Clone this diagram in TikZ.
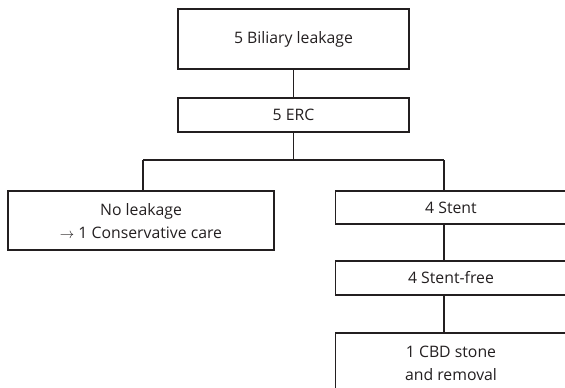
\documentclass[tikz,border=0pt]{standalone}
\usepackage{fontspec}
\setmainfont{Open Sans}
\definecolor{ink}{HTML}{231F20}
\begin{document}
\begin{tikzpicture}[x=1pt,y=-1pt,
  box/.style={draw=ink, line width=1.9pt, inner sep=0pt, align=center, text=ink,
    font=\fontsize{15.8}{23}\selectfont},
  link/.style={draw=ink, line width=1.9pt}]
\useasboundingbox (0,0) rectangle (565,388);
\clip (0,0) rectangle (565,388);
\node[box, minimum width=231.6pt, minimum height=59.7pt] (top) at (293.5,39.2) {5 Biliary leakage};
\node[box, minimum width=231.6pt, minimum height=34pt] (erc) at (293.5,115.3) {5 ERC};
\node[box, minimum width=266.6pt, minimum height=59.3pt] (left) at (141,220.7) {No leakage\\$\rightarrow$ 1 Conservative care};
\node[box, minimum width=231pt, minimum height=33.3pt] (stent) at (451,207.7) {4 Stent};
\node[box, minimum width=231pt, minimum height=34pt] (sfree) at (451,278) {4 Stent-free};
\node[box, minimum width=231pt, minimum height=62pt, anchor=north] (cbd) at (451,331.7) {1 CBD stone\\and removal};
\coordinate (L) at (143.3,160.3);
\coordinate (R) at (444.3,160.3);
\draw[link] (top.south) -- (erc.north);
\draw[link] (erc.south) -- (erc.south |- L);
\draw[link] (L) -- (R);
\draw[link] (L) -- (L |- left.north);
\draw[link] (R) -- (R |- stent.north);
\draw[link] (stent.south -| R) -- (sfree.north -| R);
\draw[link] (sfree.south -| R) -- (cbd.north -| R);
\end{tikzpicture}
\end{document}
